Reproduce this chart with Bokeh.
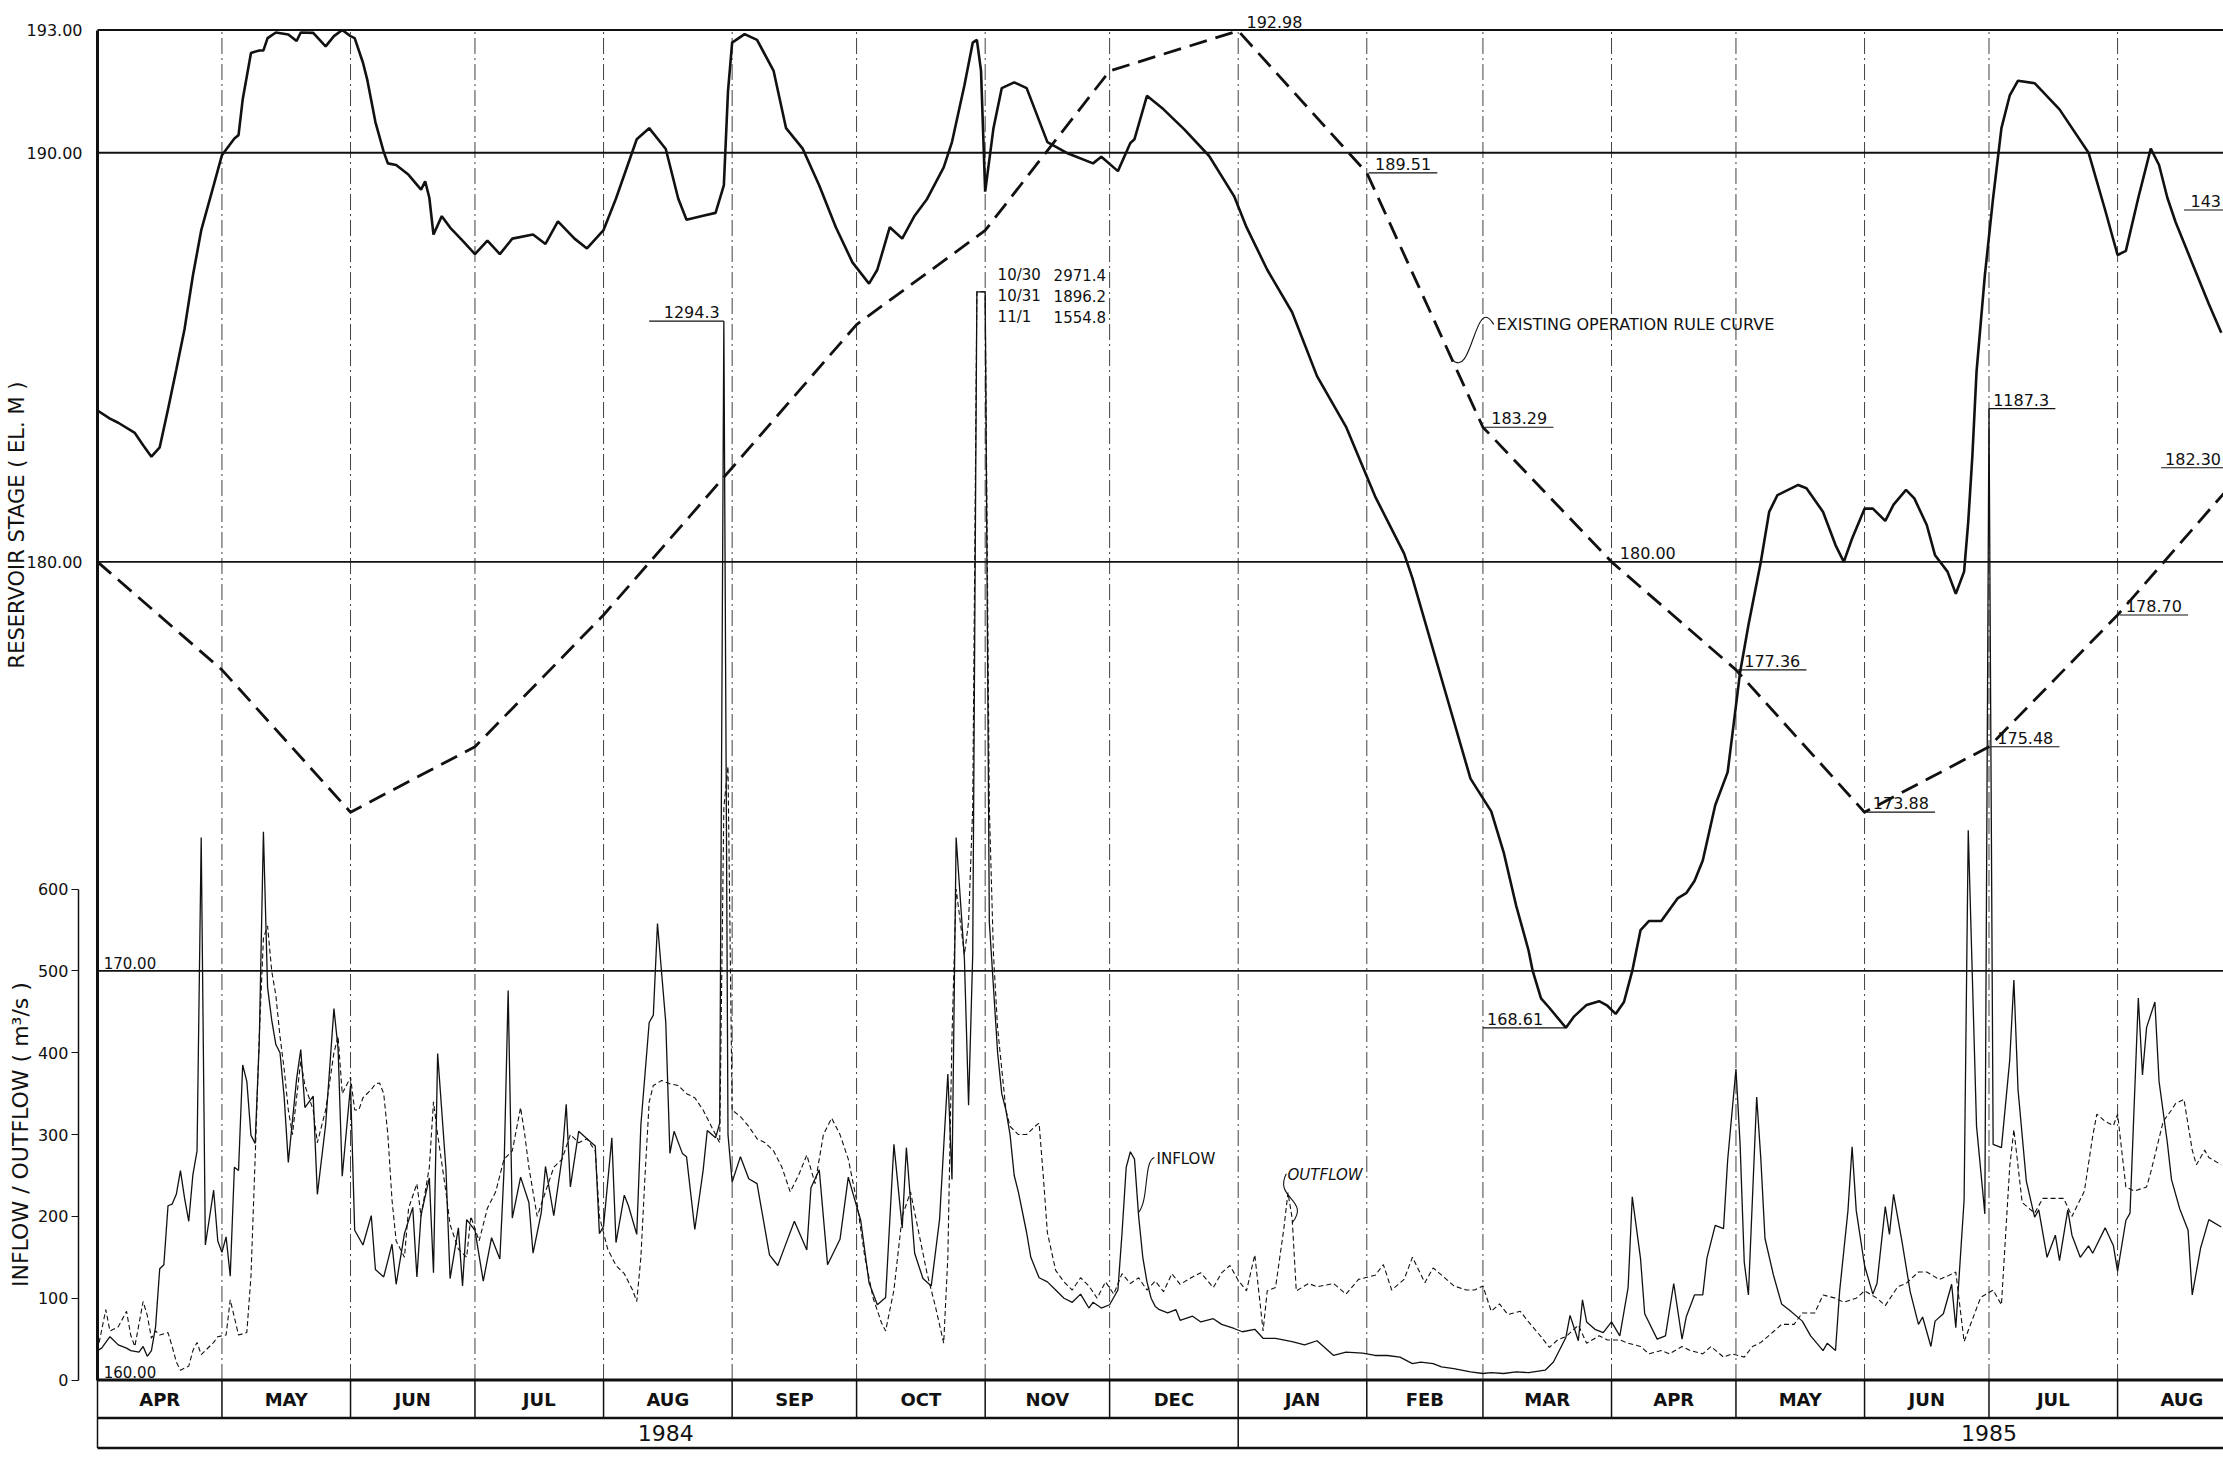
import numpy as np
import pandas as pd
from bokeh.plotting import figure
from bokeh.models import Range1d, FixedTicker, LinearAxis, NumeralTickFormatter
from bokeh.core.properties import value
from bokeh.embed import file_html
from bokeh.resources import INLINE

# ---------------------------------------------------------------- data
START = pd.Timestamp("1984-04-01")          # day 0 of the record

month_labels = ["APR", "MAY", "JUN", "JUL", "AUG", "SEP", "OCT", "NOV", "DEC",
                "JAN", "FEB", "MAR", "APR", "MAY", "JUN", "JUL", "AUG"]
year_labels = ["1984", "1985"]
year_label_dates = ["1984-08-16", "1985-07-01"]
year_break_dates = ["1984-04-01", "1985-01-01"]

# existing operation rule curve (EL. m) at the first of each month
rule_dates = ["1984-04-01", "1984-05-01", "1984-06-01", "1984-07-01", "1984-08-01",
              "1984-09-01", "1984-10-01", "1984-11-01", "1984-12-01", "1985-01-01",
              "1985-02-01", "1985-03-01", "1985-04-01", "1985-05-01", "1985-06-01",
              "1985-07-01", "1985-08-01", "1985-09-01"]
rule_values = [180.00, 177.36, 173.88, 175.48, 178.70,
               182.30, 185.80, 188.10, 192.00, 192.98,
               189.51, 183.29, 180.00, 177.36, 173.88,
               175.48, 178.70, 182.30]

# reservoir stage (EL. m), days after 1 Apr 1984
stage_day = [
    0, 3, 5, 9, 11, 13, 15, 17, 19, 21,
    23, 25, 28, 30, 33, 34, 35, 37, 39, 40,
    41, 43, 46, 48, 49, 52, 55, 57, 59, 61,
    62, 64, 65, 67, 69, 70, 72, 75, 78, 79,
    80, 81, 83, 85, 88, 91, 94, 97, 100, 105,
    108, 111, 115, 118, 122, 125, 130, 133, 137, 140,
    142, 146, 149, 151, 152, 153, 156, 159, 163, 166,
    170, 174, 178, 182, 186, 188, 191, 194, 197, 200,
    204, 206, 209, 211, 212, 213, 214, 216, 218, 221,
    224, 229, 234, 240, 242, 246, 249, 250, 253, 257,
    262, 268, 274, 277, 282, 288, 294, 301, 308, 315,
    317, 325, 331, 336, 339, 342, 345, 346, 348, 350,
    354, 356, 359, 362, 364, 366, 368, 370, 372, 374,
    377, 379, 381, 383, 385, 387, 390, 393, 396, 398,
    401, 403, 405, 410, 412, 416, 419, 421, 423, 426,
    428, 431, 433, 436, 438, 441, 443, 446, 448, 450,
    451, 452, 453, 455, 457, 459, 461, 463, 467, 473,
    480, 484, 487, 489, 492, 495, 497, 499, 501, 505,
    509, 512]
stage_el = [
    183.70, 183.50, 183.40, 183.15, 182.85, 182.57, 182.80, 183.73, 184.70, 185.70,
    187.00, 188.10, 189.20, 189.94, 190.35, 190.43, 191.30, 192.44, 192.50, 192.50,
    192.80, 192.94, 192.89, 192.73, 192.94, 192.93, 192.60, 192.85, 193.00, 192.85,
    192.80, 192.20, 191.80, 190.75, 190.02, 189.74, 189.70, 189.46, 189.10, 189.30,
    188.90, 188.00, 188.45, 188.17, 187.85, 187.52, 187.85, 187.52, 187.90, 188.00,
    187.77, 188.32, 187.90, 187.66, 188.11, 188.88, 190.33, 190.60, 190.09, 188.88,
    188.36, 188.46, 188.53, 189.20, 191.50, 192.69, 192.90, 192.76, 192.00, 190.60,
    190.10, 189.20, 188.18, 187.32, 186.80, 187.14, 188.18, 187.90, 188.46, 188.87,
    189.64, 190.26, 191.65, 192.69, 192.76, 192.00, 189.05, 190.60, 191.58, 191.72,
    191.58, 190.26, 189.98, 189.74, 189.90, 189.55, 190.24, 190.33, 191.39, 191.06,
    190.57, 189.92, 188.94, 188.18, 187.14, 186.10, 184.54, 183.30, 181.60, 180.20,
    179.60, 176.80, 174.70, 173.90, 172.90, 171.60, 170.50, 170.00, 169.33, 169.10,
    168.61, 168.89, 169.17, 169.26, 169.15, 168.95, 169.24, 170.00, 171.00, 171.22,
    171.22, 171.50, 171.78, 171.90, 172.20, 172.70, 174.05, 174.86, 177.30, 178.45,
    180.00, 181.22, 181.63, 181.88, 181.80, 181.22, 180.41, 180.00, 180.57, 181.30,
    181.30, 181.00, 181.40, 181.76, 181.55, 180.90, 180.16, 179.76, 179.22, 179.76,
    180.98, 182.60, 184.65, 187.00, 188.90, 190.60, 191.40, 191.76, 191.70, 191.06,
    190.00, 188.60, 187.50, 187.60, 188.90, 190.10, 189.70, 188.90, 188.30, 187.30,
    186.30, 185.60]

# inflow (m3/s), days after 1 Apr 1984
inflow_day = [
    0, 1, 2, 3, 5, 7, 8, 10, 11, 12, 13,
    14, 15, 16, 17, 18, 19, 20, 21, 22, 23,
    24, 25, 26, 28, 29, 30, 31, 32, 33, 34,
    35, 36, 37, 38, 39, 40, 41, 42, 43, 44,
    45, 46, 48, 49, 50, 52, 53, 55, 57, 58,
    59, 61, 62, 64, 66, 67, 69, 71, 72, 74,
    76, 77, 78, 80, 81, 82, 84, 85, 87, 88,
    89, 91, 93, 95, 97, 98, 99, 100, 102, 104,
    105, 107, 108, 110, 112, 113, 114, 116, 118, 120,
    121, 122, 124, 125, 127, 128, 130, 131, 133, 134,
    135, 137, 138, 139, 141, 142, 144, 146, 147, 149,
    150, 151, 152, 153, 155, 157, 159, 162, 164, 166,
    168, 171, 172, 174, 176, 179, 181, 184, 186, 188,
    190, 192, 194, 195, 197, 199, 201, 203, 205, 206,
    207, 209, 210, 211, 212, 213, 214, 215, 216, 217,
    218, 219, 220, 221, 222, 224, 225, 227, 229, 231,
    233, 235, 237, 239, 240, 242, 244, 246, 247, 248,
    249, 250, 251, 252, 253, 254, 255, 256, 258, 260,
    261, 264, 266, 269, 271, 274, 276, 279, 281, 284,
    288, 291, 294, 298, 301, 305, 308, 311, 314, 317,
    319, 322, 324, 327, 331, 334, 336, 339, 342, 345,
    349, 351, 354, 355, 357, 358, 359, 361, 363, 365,
    367, 369, 370, 372, 373, 376, 378, 380, 382, 383,
    385, 387, 388, 390, 392, 393, 395, 396, 397, 398,
    400, 401, 402, 404, 406, 408, 411, 413, 416, 417,
    419, 420, 422, 423, 424, 426, 428, 429, 431, 432,
    433, 435, 437, 439, 440, 442, 443, 445, 447, 448,
    450, 451, 453, 455, 456, 457, 459, 461, 462, 463,
    465, 467, 468, 470, 472, 473, 475, 476, 478, 480,
    481, 484, 486, 487, 489, 490, 492, 493, 494, 496,
    497, 499, 500, 502, 504, 505, 507, 509, 512]
inflow_cms = [
    36, 39, 46, 53, 43, 39, 36, 34, 41, 29, 36,
    65, 136, 141, 213, 215, 227, 256, 222, 194, 251,
    280, 663, 165, 232, 170, 156, 175, 127, 260, 256,
    385, 365, 299, 289, 413, 670, 480, 440, 410, 400,
    346, 266, 368, 404, 333, 347, 227, 312, 454, 405,
    249, 360, 183, 165, 201, 135, 126, 166, 117, 179,
    211, 126, 202, 247, 131, 399, 258, 124, 186, 115,
    196, 183, 121, 174, 148, 256, 476, 198, 248, 217,
    155, 205, 261, 201, 272, 337, 236, 304, 295, 286,
    179, 188, 296, 168, 226, 213, 178, 312, 437, 446,
    558, 437, 277, 304, 277, 273, 184, 256, 305, 296,
    314, 1294.3, 300, 242, 273, 246, 240, 153, 140, 167,
    194, 159, 235, 257, 141, 172, 248, 195, 119, 92,
    101, 288, 186, 284, 155, 124, 115, 196, 374, 245,
    663, 514, 336, 520, 2971.4, 1896.2, 1554.8, 560, 480, 400,
    350, 330, 300, 250, 230, 180, 150, 125, 120, 110,
    100, 95, 105, 88, 95, 88, 92, 110, 180, 260,
    279, 270, 200, 150, 120, 100, 90, 86, 82, 86,
    73, 78, 71, 75, 68, 63, 59, 62, 51, 51,
    47, 43, 48, 30, 34, 33, 30, 30, 28, 20,
    22, 20, 16, 14, 10, 8, 9, 8, 10, 9,
    12, 22, 52, 79, 48, 98, 71, 62, 58, 71,
    54, 113, 224, 148, 81, 50, 54, 118, 50, 77,
    104, 104, 149, 189, 185, 269, 380, 288, 144, 104,
    346, 270, 173, 129, 93, 85, 72, 54, 36, 45,
    36, 109, 207, 285, 207, 140, 105, 118, 212, 178,
    227, 170, 108, 68, 77, 41, 72, 81, 117, 64,
    220, 672, 310, 203, 1187.3, 288, 284, 391, 489, 355,
    243, 199, 208, 150, 177, 146, 208, 177, 150, 164,
    155, 186, 164, 133, 195, 204, 467, 373, 431, 462,
    365, 290, 245, 209, 183, 104, 161, 196, 187]

# outflow (m3/s), days after 1 Apr 1984
outflow_day = [
    0, 2, 3, 5, 7, 8, 9, 11, 12, 13,
    14, 15, 17, 18, 19, 20, 22, 23, 24, 25,
    26, 28, 29, 31, 32, 34, 36, 37, 38, 39,
    40, 41, 42, 43, 44, 45, 46, 47, 48, 49,
    50, 52, 53, 55, 57, 58, 59, 61, 62, 63,
    64, 66, 67, 68, 69, 70, 71, 72, 74, 75,
    77, 78, 80, 81, 82, 84, 85, 87, 89, 90,
    92, 94, 96, 98, 100, 102, 103, 104, 106, 108,
    110, 112, 114, 116, 118, 120, 121, 123, 125, 127,
    129, 130, 131, 132, 133, 134, 136, 138, 140, 142,
    144, 146, 148, 150, 151, 152, 153, 155, 157, 159,
    161, 163, 165, 167, 169, 171, 173, 175, 177, 179,
    181, 183, 185, 187, 189, 190, 192, 194, 196, 198,
    200, 202, 204, 205, 206, 207, 208, 209, 210, 211,
    212, 213, 214, 215, 216, 217, 218, 219, 220, 222,
    224, 226, 227, 228, 229, 231, 233, 235, 237, 239,
    241, 243, 245, 247, 249, 251, 253, 255, 257, 259,
    261, 264, 266, 269, 271, 273, 275, 277, 279, 281,
    282, 284, 286, 287, 288, 289, 292, 294, 298, 301,
    304, 308, 310, 312, 315, 317, 320, 322, 325, 327,
    330, 332, 334, 336, 338, 340, 343, 345, 348, 350,
    352, 354, 357, 359, 362, 364, 367, 369, 372, 374,
    377, 379, 382, 384, 387, 389, 392, 394, 397, 399,
    401, 404, 406, 409, 411, 414, 416, 419, 421, 424,
    426, 429, 431, 434, 436, 439, 441, 444, 446, 448,
    450, 452, 454, 457, 459, 461, 462, 464, 467, 469,
    472, 474, 476, 479, 481, 482, 484, 486, 487, 489,
    491, 494, 495, 498, 500, 501, 503, 505, 506, 508,
    509, 512]
outflow_cms = [
    36, 86, 60, 65, 84, 55, 41, 96, 79, 51,
    60, 55, 58, 41, 22, 12, 17, 36, 46, 31,
    36, 46, 53, 55, 98, 55, 58, 127, 270, 420,
    540, 555, 500, 470, 420, 380, 330, 300, 345, 390,
    360, 330, 290, 330, 400, 420, 350, 370, 330, 330,
    345, 355, 362, 363, 350, 300, 220, 170, 150, 210,
    240, 200, 260, 340, 300, 230, 190, 160, 150, 200,
    170, 210, 230, 270, 280, 333, 300, 260, 200, 230,
    260, 270, 300, 290, 295, 280, 200, 160, 140, 130,
    110, 96, 150, 250, 340, 360, 366, 362, 360, 350,
    345, 330, 310, 290, 700, 750, 330, 322, 310, 295,
    290, 280, 260, 230, 250, 275, 240, 300, 320, 300,
    270, 220, 150, 100, 70, 60, 110, 200, 230, 180,
    130, 90, 45, 150, 420, 600, 560, 520, 560, 700,
    1500, 2100, 1600, 700, 520, 430, 380, 330, 310, 300,
    300, 310, 314, 250, 180, 134, 120, 110, 125, 115,
    100, 120, 105, 130, 118, 125, 110, 121, 108, 130,
    117, 126, 131, 113, 131, 140, 122, 109, 153, 60,
    109, 113, 185, 229, 198, 109, 118, 114, 118, 105,
    123, 128, 141, 110, 123, 150, 119, 137, 124, 115,
    110, 110, 115, 84, 93, 80, 84, 71, 53, 40,
    49, 53, 67, 45, 54, 49, 49, 45, 41, 32,
    36, 32, 41, 36, 32, 41, 28, 32, 28, 41,
    46, 59, 68, 68, 82, 82, 104, 100, 95, 100,
    109, 100, 91, 114, 118, 132, 132, 123, 127, 132,
    47, 74, 101, 110, 92, 261, 306, 217, 204, 222,
    222, 222, 200, 231, 298, 325, 316, 311, 325, 236,
    231, 236, 254, 316, 330, 338, 343, 281, 263, 281,
    272, 263]

flow_ticks = [0, 100, 200, 300, 400, 500, 600]
stage_ticks = [180, 190, 193]
stage_grid = [193, 190, 180, 170]

# ---------------------------------------------------------------- layout constants
W, H = 2223, 1461
PX_DAY = 4.148                 # px per day
PX_M = 40.91                   # px per metre of stage
X0_PX, Y193_PX = 97, 29.5      # where day 0 and EL. 193 sit on the canvas
X_START = -X0_PX / PX_DAY
X_END = X_START + W / PX_DAY
Y1 = 193 + Y193_PX / PX_M
Y0 = Y1 - H / PX_M
FLOW_PER_M = 50.0              # 100 m3/s per 2 m of stage
BREAK = 1330.0                 # flows above this are drawn broken
FONT = "DejaVu Sans"
INK = "#111111"
BAND_TOP, BAND_MID, BAND_BOT = 160.0, 159.07, 158.34


def days(dates):
    return np.array([(pd.Timestamp(d) - START).days for d in dates], dtype=float)


month_starts = pd.date_range("1984-04-01", "1985-09-01", freq="MS")
ms_day = days(month_starts)
mid_day = (ms_day[:-1] + ms_day[1:]) / 2.0
rule_day = days(rule_dates)

stage_day = np.array(stage_day, float)
stage_el = np.array(stage_el, float)
inflow_day = np.array(inflow_day, float)
inflow_cms = np.array(inflow_cms, float)
outflow_day = np.array(outflow_day, float)
outflow_cms = np.array(outflow_cms, float)

p = figure(width=W, height=H, x_range=Range1d(X_START, X_END), y_range=Range1d(Y0, Y1),
           output_backend="svg", toolbar_location=None, x_axis_location=None,
           min_border_left=0, min_border_right=0, min_border_top=0, min_border_bottom=0,
           outline_line_color=None, background_fill_color="white",
           border_fill_color="white")
p.extra_y_ranges = {"flow": Range1d((Y0 - 160) * FLOW_PER_M, (Y1 - 160) * FLOW_PER_M)}
p.grid.visible = False

# ---- stage axis (on the day-0 line) and flow axis (just left of it)
ax = p.yaxis[0]
ax.fixed_location = 0
ax.ticker = FixedTicker(ticks=stage_ticks)
ax.formatter = NumeralTickFormatter(format="0.00")
ax.bounds = (160, 193)
ax.axis_line_width = 3
ax.axis_line_color = INK
ax.major_tick_line_color = None
ax.minor_tick_line_color = None
ax.major_label_standoff = 9
ax.major_label_text_font = FONT
ax.major_label_text_font_size = "16px"
ax.major_label_text_color = INK

fax = LinearAxis(y_range_name="flow", fixed_location=-4.6, ticker=FixedTicker(ticks=flow_ticks),
                 bounds=(0, 600), axis_line_width=1.5, axis_line_color=INK,
                 major_tick_out=7, major_tick_in=0, major_tick_line_color=INK,
                 minor_tick_line_color=None, major_label_standoff=3,
                 major_label_text_font=FONT, major_label_text_font_size="16px",
                 major_label_text_color=INK)
p.add_layout(fax, "left")

p.text(x=[-19.3], y=[180.9], text=["RESERVOIR STAGE ( EL. M )"], angle=np.pi / 2,
       text_align="center", text_baseline="middle", text_font=value(FONT),
       text_font_size="21px", text_color=INK)
p.text(x=[-18.6], y=[166.0], text=["INFLOW / OUTFLOW ( m³/s )"], angle=np.pi / 2,
       text_align="center", text_baseline="middle", text_font=value(FONT),
       text_font_size="22px", text_color=INK)

# ---- grid: month verticals and stage horizontals
inner = ms_day[(ms_day > 0) & (ms_day < X_END)]
p.segment(x0=inner, x1=inner, y0=160, y1=193, line_color=INK, line_width=1,
          line_dash="16 4 2 4", line_alpha=0.8)
p.segment(x0=0, x1=X_END, y0=stage_grid, y1=stage_grid, line_color=INK, line_width=1.8)

p.text(x=[1.5, 1.5], y=[170, 160], text=["170.00", "160.00"], text_font=value(FONT),
       text_font_size="15px", text_baseline="bottom", text_align="left", y_offset=-2,
       text_color=INK)

# ---- bottom band (months / years)
band_ms = ms_day[ms_day < X_END]
p.segment(x0=0, x1=X_END, y0=[BAND_TOP, BAND_MID, BAND_BOT], y1=[BAND_TOP, BAND_MID, BAND_BOT],
          line_color=INK, line_width=[3, 2.5, 2.5])
p.segment(x0=band_ms, x1=band_ms, y0=BAND_MID, y1=BAND_TOP, line_color=INK, line_width=1.5)
yb = days(year_break_dates)
p.segment(x0=yb, x1=yb, y0=BAND_BOT, y1=BAND_MID, line_color=INK, line_width=1.5)
p.text(x=mid_day, y=(BAND_TOP + BAND_MID) / 2, text=month_labels, text_font=value(FONT),
       text_font_size="18px", text_font_style="bold", text_align="center",
       text_baseline="middle", text_color=INK)
p.text(x=days(year_label_dates), y=(BAND_MID + BAND_BOT) / 2, text=year_labels,
       text_font=value(FONT), text_font_size="22px", text_align="center",
       text_baseline="middle", text_color=INK)

# ---- series
p.line(outflow_day, np.minimum(outflow_cms, BREAK), y_range_name="flow", line_color=INK,
       line_width=1.1, line_dash="5 3")
p.line(inflow_day, np.minimum(inflow_cms, BREAK), y_range_name="flow", line_color=INK,
       line_width=1.3)
p.line(rule_day, rule_values, line_color=INK, line_width=2.8, line_dash="18 9")
p.line(stage_day, stage_el, line_color=INK, line_width=2.6)

# ---- rule-curve value labels
lab_idx = [9, 10, 11, 12, 13, 14, 15, 16]
lead_idx = [10, 11, 13, 14, 15, 16]
rd = rule_day
rv = np.array(rule_values)
p.text(x=rd[lab_idx] + 2.0, y=rv[lab_idx], text=[f"{rv[i]:.2f}" for i in lab_idx],
       text_font=value(FONT), text_font_size="16px", text_baseline="bottom",
       text_align="left", y_offset=-3, text_color=INK)
p.segment(x0=rd[lead_idx] + 0.5, x1=rd[lead_idx] + 17, y0=rv[lead_idx], y1=rv[lead_idx],
          line_color=INK, line_width=1.2)
# value of the next vertex, shown at the right edge
p.text(x=[X_END - 0.6], y=[rv[-1]], text=[f"{rv[-1]:.2f}"], text_font=value(FONT),
       text_font_size="16px", text_align="right", text_baseline="bottom", y_offset=-3,
       text_color=INK)
p.segment(x0=[497.5], x1=[X_END], y0=[rv[-1]], y1=[rv[-1]], line_color=INK, line_width=1.2)

# ---- minimum stage
imin = int(np.argmin(stage_el))
dmin, vmin = stage_day[imin], stage_el[imin]
p.segment(x0=[dmin - 20], x1=[dmin], y0=[vmin], y1=[vmin], line_color=INK, line_width=1.2)
p.text(x=[dmin - 19], y=[vmin], text=[f"{vmin:.2f}"], text_font=value(FONT),
       text_font_size="16px", text_baseline="bottom", y_offset=-3, text_color=INK)

# ---- flow peak labels
peaks = [(d, v) for d, v in zip(inflow_day, inflow_cms) if 1000 < v <= BREAK]
for d, v in peaks:
    if d < 300:
        p.segment(x0=[d - 18], x1=[d], y0=[v], y1=[v], y_range_name="flow",
                  line_color=INK, line_width=1.2)
        p.text(x=[d - 1], y=[v], text=[f"{v:.1f}"], y_range_name="flow", text_align="right",
               text_font=value(FONT), text_font_size="16px", text_baseline="bottom",
               y_offset=-3, text_color=INK)
    else:
        p.segment(x0=[d], x1=[d + 16], y0=[v], y1=[v], y_range_name="flow",
                  line_color=INK, line_width=1.2)
        p.text(x=[d + 1], y=[v], text=[f"{v:.1f}"], y_range_name="flow",
               text_font=value(FONT), text_font_size="16px", text_baseline="bottom",
               y_offset=-3, text_color=INK)

big = [(d, v) for d, v in zip(inflow_day, inflow_cms) if v > BREAK]
big_dates = [START + pd.Timedelta(days=int(d)) for d, _ in big]
big_txt = [f"{t.month}/{t.day}" for t in big_dates]
big_val = [f"{v:.1f}" for _, v in big]
rows_y = [BREAK + 21 - 26 * i for i in range(len(big))]
p.text(x=[217.0] * len(big), y=rows_y, text=big_txt, y_range_name="flow",
       text_font=value(FONT), text_font_size="15px", text_baseline="middle", text_color=INK)
p.text(x=[230.5] * len(big), y=rows_y, text=big_val, y_range_name="flow",
       text_font=value(FONT), text_font_size="15px", text_baseline="middle", text_color=INK)

# "143" label at the right edge
p.text(x=[X_END - 0.6], y=[188.6], text=["143"], text_font=value(FONT), text_font_size="16px",
       text_align="right", text_baseline="bottom", y_offset=-3, text_color=INK)
p.segment(x0=[503.0], x1=[X_END], y0=[188.6], y1=[188.6], line_color=INK, line_width=1.2)

# ---- callouts
rc_y = float(np.interp(326.5, rd, rv))
p.bezier(x0=[326.5], y0=[rc_y], x1=[336.6], y1=[185.8], cx0=[331.5], cy0=[184.4],
         cx1=[332.0], cy1=[186.6], line_color=INK, line_width=1.1)
p.text(x=[337.3], y=[185.8], text=["EXISTING OPERATION RULE CURVE"], text_font=value(FONT),
       text_font_size="16px", text_baseline="middle", text_color=INK)

p.bezier(x0=[251.0], y0=[205], x1=[254.8], y1=[272], cx0=[253.5], cy0=[220],
         cx1=[252.2], cy1=[268], y_range_name="flow", line_color=INK, line_width=1.1)
p.text(x=[255.3], y=[270], text=["INFLOW"], y_range_name="flow", text_font=value(FONT),
       text_font_size="15px", text_baseline="middle", text_color=INK)

p.bezier(x0=[286.6], y0=[252], x1=[288.0], y1=[192], cx0=[283.5], cy0=[222],
         cx1=[292.5], cy1=[220], y_range_name="flow", line_color=INK, line_width=1.1)
p.text(x=[286.9], y=[251], text=["OUTFLOW"], y_range_name="flow", text_font=value(FONT),
       text_font_size="15px", text_font_style="italic", text_baseline="middle",
       text_color=INK)

open("out.html", "w").write(file_html(p, INLINE))
